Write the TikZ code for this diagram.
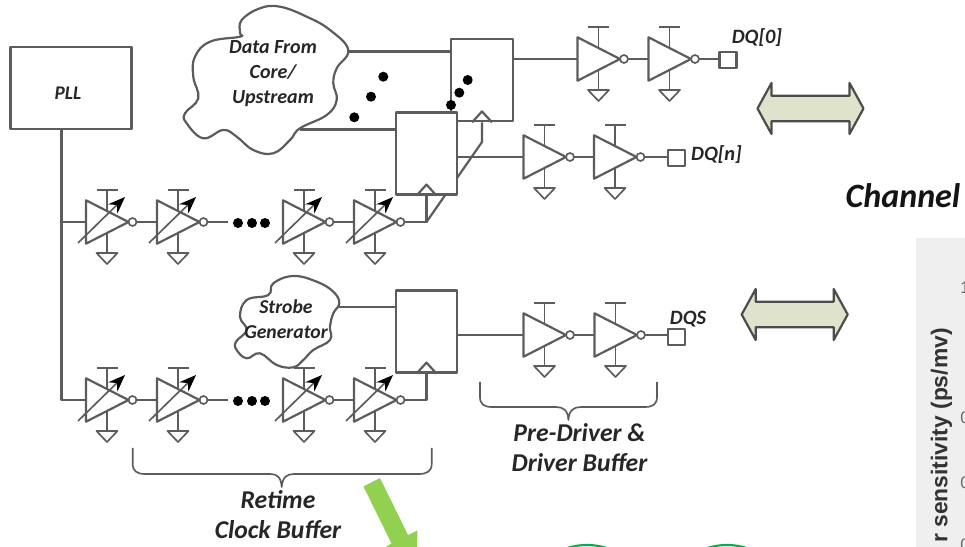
\documentclass[tikz,border=0pt]{standalone}
\usepackage{fontspec}
\setmainfont{Carlito}
\newfontfamily\panelfont{Liberation Sans}
\usetikzlibrary{arrows.meta}
\definecolor{wirecol}{HTML}{5C5C5C}
\definecolor{chanfill}{HTML}{DFE3CC}
\definecolor{panelcol}{HTML}{EFEFEF}
\definecolor{limecol}{HTML}{92D050}
\definecolor{ovalcol}{HTML}{00B050}
\tikzset{
  wire/.style={draw=wirecol,line width=1.25pt,line join=round},
  thinwire/.style={draw=wirecol,line width=0.95pt,line join=round},
  ffbox/.style={wire,fill=white,minimum width=1.23cm,minimum height=1.64cm,inner sep=0pt},
  padbox/.style={wire,minimum width=0.34cm,minimum height=0.33cm,inner sep=0pt},
  lbl/.style={font=\bfseries\itshape\fontsize{#1}{#1}\selectfont,text=black!85,inner sep=0pt,align=center},
  blob/.style={circle,fill=black,inner sep=0pt,minimum size=0.2cm},
  pics/inv/.style={code={
    \draw[wire] (0,-21.7) -- (42.5,0) -- (0,21.7) -- cycle;
    \draw[thinwire] (46.5,0) circle (4);
    \draw[thinwire] (21,-32) -- (21,-11);
    \draw[thinwire] (10.5,-32) -- (31.5,-32);
    \draw[thinwire] (21,11) -- (21,31);
    \draw[thinwire] (10.5,31) -- (31.5,31) -- (21,42) -- cycle;
    \coordinate (-in) at (0,0);
    \coordinate (-out) at (50.5,0);
  }},
  pics/adjinv/.style={code={
    \pic (-b) at (0,0) {inv};
    \draw[thinwire,-{Stealth[length=0.34cm,width=0.26cm,black]}] (-8,21) -- (39,-25);
    \coordinate (-in) at (0,0);
    \coordinate (-out) at (50.5,0);
  }},
  pics/chanarrow/.style={code={
    \draw[wire,draw=black!70,fill=chanfill] (-53,0) -- (-39,-25.5) -- (-39,-12.8) -- (39,-12.8) -- (39,-25.5) -- (53,0) -- (39,25.5) -- (39,12.8) -- (-39,12.8) -- (-39,25.5) -- cycle;
  }}
}
\begin{document}
\begin{tikzpicture}[x=0.02cm,y=-0.02cm]
\clip (0,0) rectangle (965,547);
% Panel on the right
\fill[panelcol] (916,238) rectangle (965,547);
\node[rotate=90,anchor=east,inner sep=0pt,text=black!80] (axis) at (941.5,328) {\panelfont\bfseries\fontsize{13}{14}\selectfont r sensitivity (ps/mv)};
\foreach \n/\t/\y in {ta/1/288, tb/0/418, tc/0/483, td/0/545} {
    \node[anchor=west,inner sep=0pt,text=black!60] (\n) at (960,\y) {\panelfont\fontsize{9.5}{10}\selectfont\t};
}
% Clouds
\draw[wire] plot[smooth cycle,tension=0.7] coordinates {(240,33) (241.7,20) (260,8.3) (280,6.7) (306.7,16.7) (330,30) (348.3,50) (336.7,68.3) (333.3,83.3) (336.7,100) (326.7,115) (300,128.3) (290,140) (273.3,153.3) (253.3,150) (236.7,136.7) (223.3,130) (203.3,138.3) (186.7,123.3) (185,113.3) (198.3,98.3) (193.3,76.7) (195,56.7) (210,41.7) (240,36.7)};
\draw[wire] plot[smooth cycle,tension=0.7] coordinates {(268.3,295) (273.3,283.3) (293.3,276) (316.7,281.7) (333.3,291.7) (339.3,303.3) (333.3,313.3) (330,326.7) (330,340) (313.3,350) (303.3,360) (293.3,367.3) (276.7,365) (260,353.3) (246.7,358.3) (236.7,350) (236,341.7) (246.7,330) (240,316.7) (246.7,300)};
\coordinate (cloudz) at (348,51.5);
\coordinate (cloudn) at (300,129.5);
\coordinate (clouds) at (339,306.7);
\node[lbl=11.4,font=\bfseries\itshape\fontsize{11.4}{14}\selectfont] (datatxt) at (273,73.5) {Data From\\Core/\\Upstream};
\node[lbl=11.2,font=\bfseries\itshape\fontsize{11.2}{14}\selectfont] (strobetxt) at (286,319) {Strobe\\Generator};
% PLL
\node[wire,minimum width=2.42cm,minimum height=1.64cm,inner sep=0pt] (pll) at (71,88) {};
\node[lbl=11] (plltxt) at (68,93) {PLL};
\coordinate (trunk) at (61.5,129);
% Flops
\coordinate (tapa) at (426.5,222);
\coordinate (knee) at (482,142);
\node[ffbox] (ffz) at (482,80.3) {};
\draw[wire] (tapa) -- (knee) -- (ffz.south);
\node[ffbox] (ffn) at (426.5,153.5) {};
\node[ffbox] (ffs) at (426.5,331.5) {};
\foreach \f in {ffz,ffn,ffs} {
    \draw[wire] (\f.south) ++(-10,0) -- ++(10,-11) -- ++(10,11);
}
% Inverters
\foreach \n/\x/\y in {a1/86/222, a2/157/222, a3/283/222, a4/354/222, b1/86/400, b2/157/400, b3/283/400, b4/354/400} {
    \pic (\n) at (\x,\y) {adjinv};
}
\foreach \n/\x/\y in {c1/577.5/59, c2/648.5/59, d1/523.5/157, d2/594/157, e1/523.5/335, e2/594.5/335} {
    \pic (\n) at (\x,\y) {inv};
}
% Pads
\node[padbox] (padz) at (728,60) {};
\node[padbox] (padn) at (676.5,158) {};
\node[padbox] (pads) at (676.5,337) {};
\node[lbl=11.6] (dqz) at (757,38) {DQ[0]};
\node[lbl=11.6] (dqn) at (716.5,155) {DQ[n]};
\node[lbl=11.6] (dqs) at (688,319) {DQS};
% Wires
\draw[wire] (trunk) -- (trunk |- b1-in) -- (b1-in);
\draw[wire] (trunk |- a1-in) -- (a1-in);
\foreach \a/\b in {a1/a2, a3/a4, b1/b2, b3/b4, c1/c2, d1/d2, e1/e2} {
    \draw[wire] (\a-out) -- (\b-in);
}
\coordinate (enda) at (228,222);
\coordinate (endb) at (228,400);
\draw[wire] (a2-out) -- (enda);
\draw[wire] (b2-out) -- (endb);
\draw[wire] (a4-out) -- (tapa) -- (ffn.south);
\draw[wire] (b4-out) -- (b4-out -| ffs.south) -- (ffs.south);
\draw[wire] (cloudz) -- (cloudz -| ffz.west);
\draw[wire] (cloudn) -- (cloudn -| ffn.west);
\draw[wire] (clouds) -- (clouds -| ffs.west);
\draw[wire] (c1-in -| ffz.east) -- (c1-in);
\draw[wire] (d1-in -| ffn.east) -- (d1-in);
\draw[wire] (e1-in -| ffs.east) -- (e1-in);
\draw[wire] (c2-out) -- (c2-out -| padz.west);
\draw[wire] (d2-out) -- (d2-out -| padn.west);
\draw[wire] (e2-out) -- (e2-out -| pads.west);
% Dots
\foreach \n/\x/\y in {p1/238/223, p2/252/223, p3/265/223, q1/238/401, q2/252/401, q3/265/401, r1/383.3/76.7, r2/371/96.7, r3/354.3/117.3, s1/467.7/80, s2/459.3/92.7, s3/451/105} {
    \node[blob] (\n) at (\x,\y) {};
}
% Braces
\draw[thinwire] (480,382) -- (480,397) .. controls (480,404) and (484,407) .. (492,407) -- (556,407) .. controls (563,407) and (568,410) .. (568.4,420) .. controls (569,410) and (574,407) .. (581,407) -- (645,407) .. controls (653,407) and (657,404) .. (657,397) -- (657,382);
\draw[thinwire] (132.7,448) -- (132.7,464) .. controls (132.7,471) and (137,474) .. (145,474) -- (270,474) .. controls (277,474) and (281,477) .. (281.7,487) .. controls (282.5,477) and (287,474) .. (294,474) -- (419,474) .. controls (427,474) and (431.7,471) .. (431.7,464) -- (431.7,448);
\node[lbl=14.6,font=\bfseries\itshape\fontsize{14.6}{17}\selectfont] (predrv) at (579.5,448) {Pre-Driver \&\\Driver Buffer};
\node[lbl=14.6,font=\bfseries\itshape\fontsize{14.6}{17.5}\selectfont] (retime) at (278,514.5) {Retime\\Clock Buffer};
% Channel
\pic at (810.5,108.5) {chanarrow};
\pic at (794.7,314.5) {chanarrow};
\node[lbl=19.4,text=black!92] (chantxt) at (903,196) {Channel};
% Green marks
\fill[limecol] (363.5,486.5) -- (380,478) -- (408,535) -- (417.5,530.5) -- (416,570) -- (385,547.5) -- (391.5,543.5) -- cycle;
\draw[ovalcol,line width=1.2pt] (587,600) ellipse (60 and 55);
\draw[ovalcol,line width=1.2pt] (727,600) ellipse (60 and 55);
\end{tikzpicture}
\end{document}
